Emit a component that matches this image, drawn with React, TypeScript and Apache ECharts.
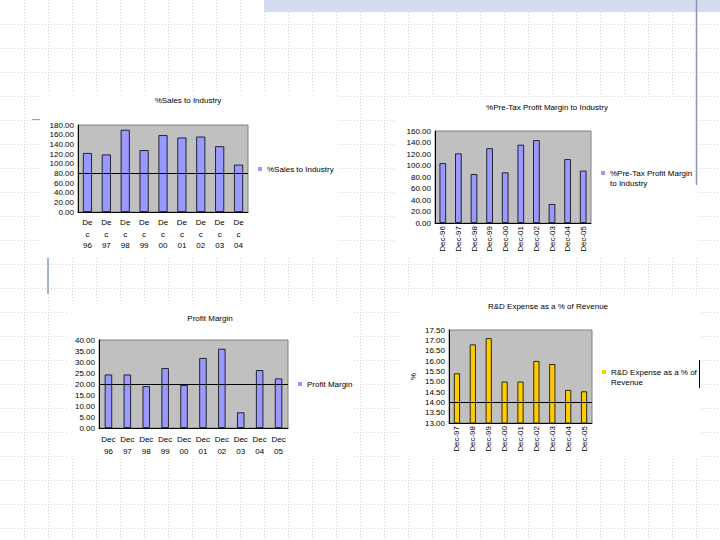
import React, { useEffect, useRef } from "react";
import * as echarts from "echarts";

const salesCategories = ["Dec 96", "Dec 97", "Dec 98", "Dec 99", "Dec 00", "Dec 01", "Dec 02", "Dec 03", "Dec 04"];
const salesValues = [122, 119, 170, 128, 159, 154, 156, 136, 98];
const salesReference = 80;

const pretaxCategories = ["Dec-96", "Dec-97", "Dec-98", "Dec-99", "Dec-00", "Dec-01", "Dec-02", "Dec-03", "Dec-04", "Dec-05"];
const pretaxValues = [104, 121, 85, 130, 88, 136, 144, 33, 111, 91];

const marginCategories = ["Dec 96", "Dec 97", "Dec 98", "Dec 99", "Dec 00", "Dec 01", "Dec 02", "Dec 03", "Dec 04", "Dec 05"];
const marginValues = [24.3, 24.3, 19.0, 27.2, 19.5, 31.8, 36.0, 7.1, 26.3, 22.5];
const marginReference = 20;

const rdCategories = ["Dec-97", "Dec-98", "Dec-99", "Dec-00", "Dec-01", "Dec-02", "Dec-03", "Dec-04", "Dec-05"];
const rdValues = [15.4, 16.8, 17.1, 15.0, 15.0, 16.0, 15.85, 14.6, 14.53];
const rdReference = 14;

const FONT = "'Liberation Sans', Arial, sans-serif";
const LAVENDER = "#9999FF";
const GOLD = "#FFCC00";

function buildBackground() {
  const els: any[] = [];
  for (let x = 24; x < 720; x += 24) {
    els.push({
      type: "line",
      z: -10,
      silent: true,
      shape: { x1: x + 0.5, y1: 0, x2: x + 0.5, y2: 540 },
      style: { stroke: "#D2D2D2", lineWidth: 1, lineDash: [1, 2] },
    });
  }
  for (let y = 24; y < 540; y += 24) {
    els.push({
      type: "line",
      z: -10,
      silent: true,
      shape: { x1: 0, y1: y + 0.5, x2: 720, y2: y + 0.5 },
      style: { stroke: "#D2D2D2", lineWidth: 1, lineDash: [1, 2] },
    });
  }
  const boxes = [
    [40, 92, 297, 164],
    [395, 99, 302, 159],
    [68, 301, 285, 157],
    [400, 292, 300, 166],
  ];
  boxes.forEach(([x, y, w, h]) => {
    els.push({ type: "rect", z: -9, silent: true, shape: { x, y, width: w, height: h }, style: { fill: "#FFFFFF" } });
  });
  els.push({ type: "rect", z: -9, silent: true, shape: { x: 264, y: 0, width: 456, height: 12 }, style: { fill: "#D4DCF0" } });
  els.push({ type: "line", z: -8, silent: true, shape: { x1: 696.5, y1: 0, x2: 696.5, y2: 185 }, style: { stroke: "#8A94B8", lineWidth: 1.5 } });
  els.push({ type: "line", z: -8, silent: true, shape: { x1: 32, y1: 119.5, x2: 40, y2: 119.5 }, style: { stroke: "#98A2C0", lineWidth: 1 } });
  els.push({ type: "line", z: -8, silent: true, shape: { x1: 48, y1: 258, x2: 48, y2: 294 }, style: { stroke: "#8A9AC4", lineWidth: 1.5 } });
  els.push({ type: "line", z: -8, silent: true, shape: { x1: 699.5, y1: 360, x2: 699.5, y2: 388 }, style: { stroke: "#000000", lineWidth: 1 } });
  return els;
}

const twoLineIcon = "path://M0,0h0.01v0.01h-0.01z M0,3h4v4h-4z M0,20h0.01v0.01h-0.01z";

function yAxis(gridIndex: number, min: number, max: number, interval: number, extra: any = {}) {
  return {
    type: "value",
    gridIndex,
    min,
    max,
    interval,
    axisLine: { show: true, lineStyle: { color: "#000", width: 1 } },
    axisTick: { show: false },
    splitLine: { show: false },
    axisLabel: { fontSize: 8, color: "#000", fontFamily: FONT, margin: 4, formatter: (v: number) => v.toFixed(2) },
    ...extra,
  };
}

function xAxis(gridIndex: number, data: string[], label: any) {
  return {
    type: "category",
    gridIndex,
    data,
    axisLine: { show: true, lineStyle: { color: "#000", width: 1 } },
    axisTick: { show: false },
    splitLine: { show: false },
    axisLabel: { interval: 0, fontSize: 8, color: "#000", fontFamily: FONT, ...label },
  };
}

function refLine(value: number) {
  return {
    silent: true,
    symbol: "none",
    label: { show: false },
    lineStyle: { color: "#000", width: 1, type: "solid" },
    data: [{ yAxis: value }],
  };
}

function barSeries(name: string, idx: number, data: number[], color: string, barWidth: string, ref?: number) {
  const s: any = {
    type: "bar",
    name,
    xAxisIndex: idx,
    yAxisIndex: idx,
    data,
    barWidth,
    itemStyle: { color, borderColor: "#000", borderWidth: 0.8 },
  };
  if (ref !== undefined) s.markLine = refLine(ref);
  return s;
}

const gridBase = { show: true, backgroundColor: "#C0C0C0", borderColor: "#808080", borderWidth: 1, containLabel: false, outerBoundsMode: "none" };

const titleStyle = { fontSize: 8, fontWeight: "normal", color: "#000", fontFamily: FONT };
const legendText = { fontSize: 8, color: "#000", fontFamily: FONT, lineHeight: 10 };
const legendItem = { borderWidth: 0 };

export default function App() {
  const ref = useRef<HTMLDivElement>(null);
  useEffect(() => {
    if (!ref.current) return;
    const chart = echarts.init(ref.current, null, { renderer: "svg" });
    chart.setOption({
      animation: false,
      backgroundColor: "#FFFFFF",
      textStyle: { fontFamily: FONT, color: "#000" },
      graphic: { elements: buildBackground() },
      title: [
        { text: "%Sales to Industry", left: 188, top: 96, textAlign: "center", padding: 0, textStyle: titleStyle },
        { text: "%Pre-Tax Profit Margin to Industry", left: 547, top: 103, textAlign: "center", padding: 0, textStyle: titleStyle },
        { text: "Profit Margin", left: 210, top: 314, textAlign: "center", padding: 0, textStyle: titleStyle },
        { text: "R&D Expense as a % of Revenue", left: 548, top: 302, textAlign: "center", padding: 0, textStyle: titleStyle },
      ],
      legend: [
        { data: ["%Sales to Industry"], left: 258, top: 164, padding: 0, icon: "rect", itemWidth: 4, itemHeight: 4, itemStyle: legendItem, textStyle: legendText, selectedMode: false },
        {
          data: ["%Pre-Tax Profit Margin to Industry"], left: 601, top: 168, padding: 0, icon: twoLineIcon, itemWidth: 4, itemHeight: 20, itemStyle: legendItem,
          formatter: (n: string) => n.replace(" to ", "\nto "), textStyle: legendText, selectedMode: false,
        },
        { data: ["Profit Margin"], left: 298, top: 379, padding: 0, icon: "rect", itemWidth: 4, itemHeight: 4, itemStyle: legendItem, textStyle: legendText, selectedMode: false },
        {
          data: ["R&D Expense as a % of Revenue"], left: 602, top: 367, padding: 0, icon: twoLineIcon, itemWidth: 4, itemHeight: 20, itemStyle: legendItem,
          formatter: (n: string) => n.replace(" Revenue", "\nRevenue"), textStyle: legendText, selectedMode: false,
        },
      ],
      grid: [
        { ...gridBase, left: 78, top: 125, width: 170, height: 87 },
        { ...gridBase, left: 435, top: 131, width: 156, height: 92 },
        { ...gridBase, left: 99, top: 340, width: 189, height: 88 },
        { ...gridBase, left: 449, top: 330, width: 143, height: 93 },
      ],
      xAxis: [
        xAxis(0, salesCategories, { margin: 5, lineHeight: 11.5, formatter: (v: string) => v.replace("Dec ", "De\nc\n") }),
        xAxis(1, pretaxCategories, { margin: 3, rotate: 90 }),
        xAxis(2, marginCategories, { margin: 5, lineHeight: 12, formatter: (v: string) => v.replace(" ", "\n") }),
        xAxis(3, rdCategories, { margin: 3, rotate: 90 }),
      ],
      yAxis: [
        yAxis(0, 0, 180, 20),
        yAxis(1, 0, 160, 20),
        yAxis(2, 0, 40, 5),
        yAxis(3, 13, 17.5, 0.5, {
          name: "%",
          nameLocation: "middle",
          nameGap: 32,
          nameRotate: 90,
          nameTextStyle: { fontSize: 8, color: "#000", fontFamily: FONT },
        }),
      ],
      series: [
        barSeries("%Sales to Industry", 0, salesValues, LAVENDER, "48%", salesReference),
        barSeries("%Pre-Tax Profit Margin to Industry", 1, pretaxValues, LAVENDER, "42%"),
        barSeries("Profit Margin", 2, marginValues, LAVENDER, "39%", marginReference),
        barSeries("R&D Expense as a % of Revenue", 3, rdValues, GOLD, "38%", rdReference),
      ],
    });
    return () => chart.dispose();
  }, []);
  return <div ref={ref} style={{ position: "absolute", left: 0, top: 0, width: 720, height: 540 }} />;
}
